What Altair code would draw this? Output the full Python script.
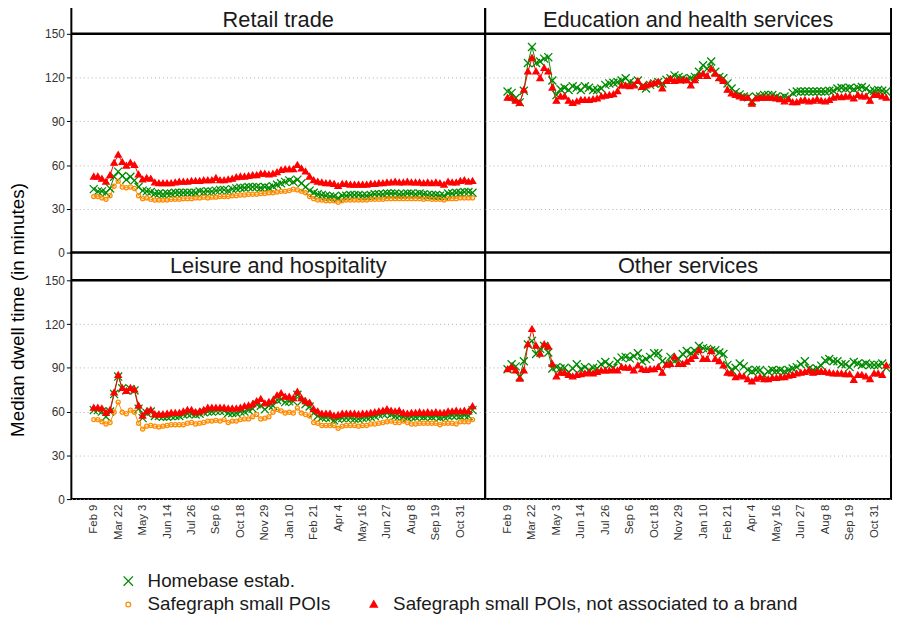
import json
import altair as alt
import pandas as pd

# ---------------- data ----------------
weeks = list(range(94))  # weekly observations, Feb 9 2020 ... Nov 21 2021
tick_weeks = [0, 6, 12, 18, 24, 30, 36, 42, 48, 54, 60, 66, 72, 78, 84, 90]
tick_labels = ["Feb 9", "Mar 22", "May 3", "Jun 14", "Jul 26", "Sep 6", "Oct 18", "Nov 29",
               "Jan 10", "Feb 21", "Apr 4", "May 16", "Jun 27", "Aug 8", "Sep 19", "Oct 31"]
y_ticks = [0, 30, 60, 90, 120, 150]

panels = ["Retail trade", "Education and health services",
          "Leisure and hospitality", "Other services"]
series_names = ["Homebase estab.", "Safegraph small POIs",
                "Safegraph small POIs, not associated to a brand"]

retail_homebase = [
    43.5, 42, 42, 41, 44, 52, 55.5, 52.5, 50, 52,
    49.5, 45, 42.5, 42, 41.5, 40.5, 40.5, 40, 40.5, 40.5,
    41, 41, 41, 41, 41, 41, 42, 41.5, 42, 42,
    42.5, 43, 43, 42.5, 43.5, 44, 44.5, 44.5, 45, 45,
    45, 44.5, 45, 44.5, 45.5, 46.5, 47.5, 48.5, 49.5, 48.5,
    50, 47.5, 45, 42.5, 41, 40, 39.5, 39, 38.5, 38.5,
    37.5, 39, 39, 39.5, 39.5, 39.5, 39, 39, 39.5, 40,
    40, 40, 40.5, 40.5, 40.5, 40, 40, 40.5, 40.5, 40,
    40.5, 40, 39.5, 39.5, 39.5, 39, 39, 40.5, 40.5, 41,
    41, 41.5, 41.5, 41]
retail_sg = [
    38.5, 38.5, 37.5, 36.5, 39, 45.5, 49, 45, 44.5, 45,
    44, 39, 37, 37.5, 36.5, 36, 36, 36, 36, 36.5,
    36.5, 36.5, 37, 37, 37, 37.5, 37.5, 38, 37.5, 38,
    38, 38.5, 38.5, 38.5, 39, 39, 39.5, 39.5, 40, 40,
    40, 40.5, 40.5, 41, 41, 41.5, 42, 42, 42.5, 43.5,
    43, 42, 41, 38.5, 37, 36, 36, 35.5, 35.5, 35.5,
    34.5, 35.5, 36, 36, 36, 36, 36, 36, 36.5, 36.5,
    36.5, 36.5, 37, 37, 37, 37, 37, 37, 37, 37,
    37, 36.5, 37, 36.5, 36.5, 36.5, 36, 37, 37, 37,
    37.5, 37.5, 37.5, 37.5]
retail_sg_nobrand = [
    52, 52, 50.5, 48.5, 53, 61.5, 67, 62, 59.5, 61.5,
    60, 53.5, 50, 51, 50.5, 48, 47.5, 47.5, 47.5, 47.5,
    48, 48.5, 48.5, 48.5, 49, 49, 49, 49.5, 49.5, 49.5,
    51, 49.5, 49.5, 50, 50.5, 51.5, 52, 52, 52.5, 53,
    53, 54, 54, 53.5, 54, 55, 56.5, 57, 57, 57,
    60, 57.5, 55.5, 52, 49.5, 48.5, 48, 47.5, 47.5, 47,
    45.5, 47, 47, 46.5, 46.5, 46.5, 46.5, 46.5, 47, 47,
    47.5, 47.5, 48, 48, 48.5, 48, 48, 48.5, 48, 48,
    48, 47.5, 48, 47.5, 48, 47.5, 46.5, 48.5, 48, 48,
    49, 49.5, 48.5, 49]

education_homebase = [
    110.5, 109.5, 106, 103, 111, 130, 141, 130, 131, 133,
    134, 118, 108, 112, 113, 111.5, 114, 113, 111.5, 114,
    113, 111.5, 111.5, 112.5, 115, 116, 116.5, 117, 118, 119.5,
    117, 116, 118, 114, 112.5, 115, 116, 117, 116, 118.5,
    119.5, 121.5, 120.5, 119.5, 118.5, 119.5, 120.5, 124, 128.5, 126,
    131, 124, 120.5, 119.5, 116, 112.5, 110, 108.5, 107, 106.5,
    104, 107, 107, 108, 108, 108, 107, 106, 107, 106,
    109.5, 110.5, 110.5, 110.5, 110.5, 110.5, 110.5, 110.5, 110.5, 111,
    111, 112.5, 113, 112.5, 113, 112, 113, 113.5, 112.5, 110.5,
    111, 111.5, 111, 110.5]
education_sg_nobrand = [
    106, 106, 104, 102.5, 111.5, 124, 133.5, 124, 119.5, 126.5,
    124, 113, 104, 107, 107, 104, 102.5, 103.5, 104.5, 104.5,
    104.5, 105, 105.5, 107, 107.5, 108, 108.5, 110.5, 114.5, 114.5,
    114, 114.5, 117.5, 113.5, 114.5, 115.5, 116, 117, 112.5, 117.5,
    119, 117.5, 118, 118, 118, 114.5, 118, 121, 122.5, 121,
    126, 122.5, 119.5, 117.5, 111.5, 109, 108, 107, 106, 106,
    102, 105.5, 106, 106, 106, 106, 105.5, 105, 103.5, 105,
    103, 103, 104, 104.5, 103.5, 104, 105, 104, 103.5, 104.5,
    106, 107, 106.5, 107, 107, 105.5, 108, 107, 107, 104,
    108, 108, 107, 106]

leisure_homebase = [
    61, 61, 60, 56.5, 60, 72, 84, 76, 74.5, 75.5,
    74.5, 62, 55.5, 59, 60, 57, 57, 56.5, 56.5, 57,
    57, 57, 58, 58.5, 58.5, 58, 58.5, 59.5, 60, 60,
    60.5, 60.5, 60.5, 59, 59, 59, 60, 60, 61, 62,
    65, 64, 61.5, 64, 64, 68, 68.5, 66.5, 67, 67,
    71.5, 67, 65, 63.5, 59, 57, 56, 56, 55.5, 54,
    55, 55.5, 55.5, 55.5, 55, 55, 55.5, 56, 56.5, 57,
    58, 58.5, 59, 58, 57, 57, 56.5, 56, 56.5, 56.5,
    57, 56.5, 57, 56.5, 57, 56, 56.5, 57, 57.5, 57.5,
    57, 57.5, 57, 61]
leisure_sg = [
    54.5, 54.5, 53, 51.5, 52.5, 59.5, 66.5, 59.5, 58.5, 61,
    59.5, 52, 48, 50, 50.5, 50, 49.5, 50, 50.5, 51,
    51, 51, 51, 52, 52.5, 51.5, 52, 52.5, 53.5, 53.5,
    54, 53.5, 54.5, 52.5, 53.5, 53.5, 54.5, 55, 55, 56.5,
    58, 55, 55.5, 56.5, 59.5, 61.5, 60.5, 59, 59.5, 59,
    62.5, 59, 58, 57, 52.5, 52, 50.5, 50.5, 50.5, 50.5,
    48.5, 50, 50.5, 50.5, 50.5, 50, 50.5, 50.5, 51.5, 51.5,
    52, 52.5, 53, 53.5, 52.5, 52.5, 53.5, 52.5, 51.5, 51.5,
    52, 52, 52, 52, 52, 51, 52, 52, 52, 51.5,
    53, 53, 53, 54.5]
leisure_sg_nobrand = [
    62.5, 62.5, 62, 59, 61, 73, 85, 76, 74, 76,
    75, 64, 57, 60, 61, 58, 58, 58, 58.5, 59,
    59, 59, 60, 61, 61, 59.5, 60, 61, 62.5, 62.5,
    62.5, 62.5, 62.5, 62, 62, 62, 62.5, 63.5, 64, 65,
    67, 68.5, 65.5, 66.5, 67.5, 71, 72.5, 70, 70, 69,
    73.5, 69, 67, 66, 61.5, 60, 58.5, 58.5, 58.5, 57,
    57.5, 58.5, 58.5, 58.5, 58.5, 58, 58.5, 58.5, 59, 59.5,
    60, 60.5, 61.5, 60.5, 60, 60.5, 59, 58.5, 59, 59,
    59.5, 59, 59.5, 59, 59.5, 59, 59, 60, 60, 60.5,
    60, 60.5, 60, 63.5]

other_homebase = [
    89, 92.5, 91, 84, 94.5, 106, 108.5, 99.5, 103, 105,
    100.5, 89.5, 90.5, 89.5, 90, 87, 89.5, 92.5, 89, 90.5,
    88.5, 90, 89.5, 92.5, 94, 92, 90, 94.5, 97, 97.5,
    96.5, 98, 100, 94.5, 96, 97.5, 100, 100, 94.5, 92.5,
    97.5, 94.5, 96, 99.5, 101.5, 100, 101.5, 105, 103.5, 103,
    102, 102, 100.5, 99.5, 92, 88.5, 90, 93, 91, 88.5,
    87.5, 88.5, 88.5, 85, 87.5, 88.5, 88, 88.5, 87.5, 88.5,
    89.5, 90.5, 92.5, 94.5, 89.5, 88.5, 89.5, 91.5, 95, 96,
    94.5, 94.5, 92.5, 92.5, 90.5, 94, 93, 92, 93, 92,
    92, 92, 93, 90]
other_sg_nobrand = [
    89, 90.5, 88, 82.5, 88, 106, 116.5, 105, 99.5, 106,
    104.5, 92.5, 84, 86.5, 86.5, 85, 84, 85, 85.5, 86,
    86.5, 86, 87, 88, 88, 88, 88.5, 88, 90.5, 90,
    90, 88, 91.5, 89, 88.5, 89, 89, 90.5, 86.5, 92,
    92.5, 97.5, 92.5, 92.5, 94, 96, 98, 102, 96, 96,
    101.5, 96, 94.5, 91.5, 86.5, 86, 83.5, 84.5, 84, 82,
    80.5, 82.5, 83.5, 82, 82, 83, 83, 83.5, 83.5, 84.5,
    85, 86, 86.5, 87, 88, 86.5, 87, 87.5, 87, 86.5,
    86, 86, 86, 85.5, 85.5, 81.5, 85, 85, 84, 82,
    86, 86, 85, 91.5]

panel_series = [
    [retail_homebase, retail_sg, retail_sg_nobrand],
    [education_homebase, None, education_sg_nobrand],
    [leisure_homebase, leisure_sg, leisure_sg_nobrand],
    [other_homebase, None, other_sg_nobrand],
]

# ---------------- styling ----------------
FONT = "Liberation Sans"
GREEN, ORANGE, RED = "#008B00", "#FF8C00", "#FF0000"
series_colors = [GREEN, ORANGE, RED]
X_PATH = "M-0.9,-0.9L0.9,0.9M-0.9,0.9L0.9,-0.9"
CIRCLE_PATH = "M0.46,0A0.46,0.46 0 1,1 -0.46,0A0.46,0.46 0 1,1 0.46,0Z"
TRI_PATH = "M0,-0.7L0.7,0.5L-0.7,0.5Z"

# legend entries (the blank one only pads the first legend row)
legend_domain = [series_names[0], series_names[1], " ", series_names[2]]
stroke_range = [GREEN, ORANGE, "transparent", RED]
fill_range = ["transparent", "transparent", "transparent", RED]
shape_range = [X_PATH, CIRCLE_PATH, "circle", TRI_PATH]

LEFT_W, RIGHT_W, PANEL_H, PLOT_H = 418, 410, 249, 221
Y_TOP = 150 * PANEL_H / PLOT_H  # extra room above 150 for the strip
X_MIN = -5.5
PX_PER_WEEK = LEFT_W / (96.1 - X_MIN)
label_expr = json.dumps(tick_labels) + "[round(datum.value / 6)]"


def make_panel(idx):
    name = panels[idx]
    col, row = idx % 2, idx // 2
    width = LEFT_W if col == 0 else RIGHT_W
    x_max = X_MIN + width / PX_PER_WEEK

    frames = []
    for s_name, vals in zip(series_names, panel_series[idx]):
        if vals is None:
            continue
        frames.append(pd.DataFrame({"week": weeks, "value": vals, "series": s_name}))
    df = pd.concat(frames, ignore_index=True)

    xscale = alt.Scale(domain=[X_MIN, x_max], nice=False, zero=False)
    yscale = alt.Scale(domain=[0, Y_TOP], nice=False, zero=True)

    if row == 1:
        xaxis = alt.Axis(values=tick_weeks, labelExpr=label_expr, labelAngle=270,
                         labelFont=FONT, labelFontSize=11.5, labelColor="#333333",
                         labelOverlap=False, ticks=False, domain=False, grid=False,
                         labelPadding=5, title=None)
    else:
        xaxis = None

    grid_kw = dict(grid=True, gridDash=[1, 3], gridColor="#b0b0b0", gridWidth=1)
    if col == 0:
        yaxis = alt.Axis(values=y_ticks, title=None, domain=False, tickColor="black",
                         tickSize=5, tickWidth=1, labelFont=FONT, labelFontSize=12,
                         labelColor="#333333", labelPadding=2, **grid_kw)
    else:
        yaxis = alt.Axis(values=y_ticks, title=None, domain=False, ticks=False,
                         labels=False, **grid_kw)

    X = alt.X("week:Q", scale=xscale, axis=xaxis)
    Y = alt.Y("value:Q", scale=yscale, axis=yaxis)

    base = alt.Chart(df)
    present = set(df["series"])
    lines = [
        base.transform_filter(alt.datum.series == s_name)
        .mark_line(color=c, strokeWidth=1)
        .encode(x=X, y=Y)
        for s_name, c in zip(series_names, series_colors)
        if s_name in present
    ]
    leg = alt.Legend(title=None)
    points = base.mark_point(filled=True, strokeWidth=1.3, opacity=1, size=81).encode(
        x=X, y=Y,
        stroke=alt.Stroke("series:N", scale=alt.Scale(domain=legend_domain, range=stroke_range), legend=leg),
        fill=alt.Fill("series:N", scale=alt.Scale(domain=legend_domain, range=fill_range), legend=leg),
        shape=alt.Shape("series:N", scale=alt.Scale(domain=legend_domain, range=shape_range), legend=leg),
    )
    one = alt.Data(values=[{}])
    strip_rule = alt.Chart(one).mark_rule(color="black", strokeWidth=2.5).encode(
        y=alt.YDatum(150, scale=yscale, axis=yaxis))
    strip_text = alt.Chart(one).mark_text(font=FONT, fontSize=22, color="#1a1a1a",
                                          baseline="middle", align="center").encode(
        x=alt.XDatum((X_MIN + x_max) / 2, scale=xscale, axis=xaxis),
        y=alt.YDatum((150 + Y_TOP) / 2, scale=yscale, axis=yaxis),
        text=alt.value(name))
    return alt.layer(*lines, points, strip_rule, strip_text).properties(
        width=width, height=PANEL_H)


chart = alt.concat(
    *[make_panel(i) for i in range(4)], columns=2, spacing=0, bounds="flush"
).properties(
    title=alt.TitleParams("Median dwell time (in minutes)", orient="left", anchor="middle",
                          font=FONT, fontSize=19, fontWeight="normal", color="black",
                          offset=16),
    padding={"left": 0, "top": -6, "right": 0, "bottom": -2},
).configure_view(
    stroke="black", strokeWidth=2
).configure_legend(
    orient="none", legendX=48, legendY=571, columns=2, columnPadding=34,
    rowPadding=4, padding=0, labelFont=FONT, labelFontSize=19, labelColor="#1a1a1a",
    labelOffset=10, symbolSize=110, symbolStrokeWidth=1.3, labelLimit=0
).configure_concat(spacing=0)

chart.save("out.html", embed_options={"renderer": "svg", "actions": False})
